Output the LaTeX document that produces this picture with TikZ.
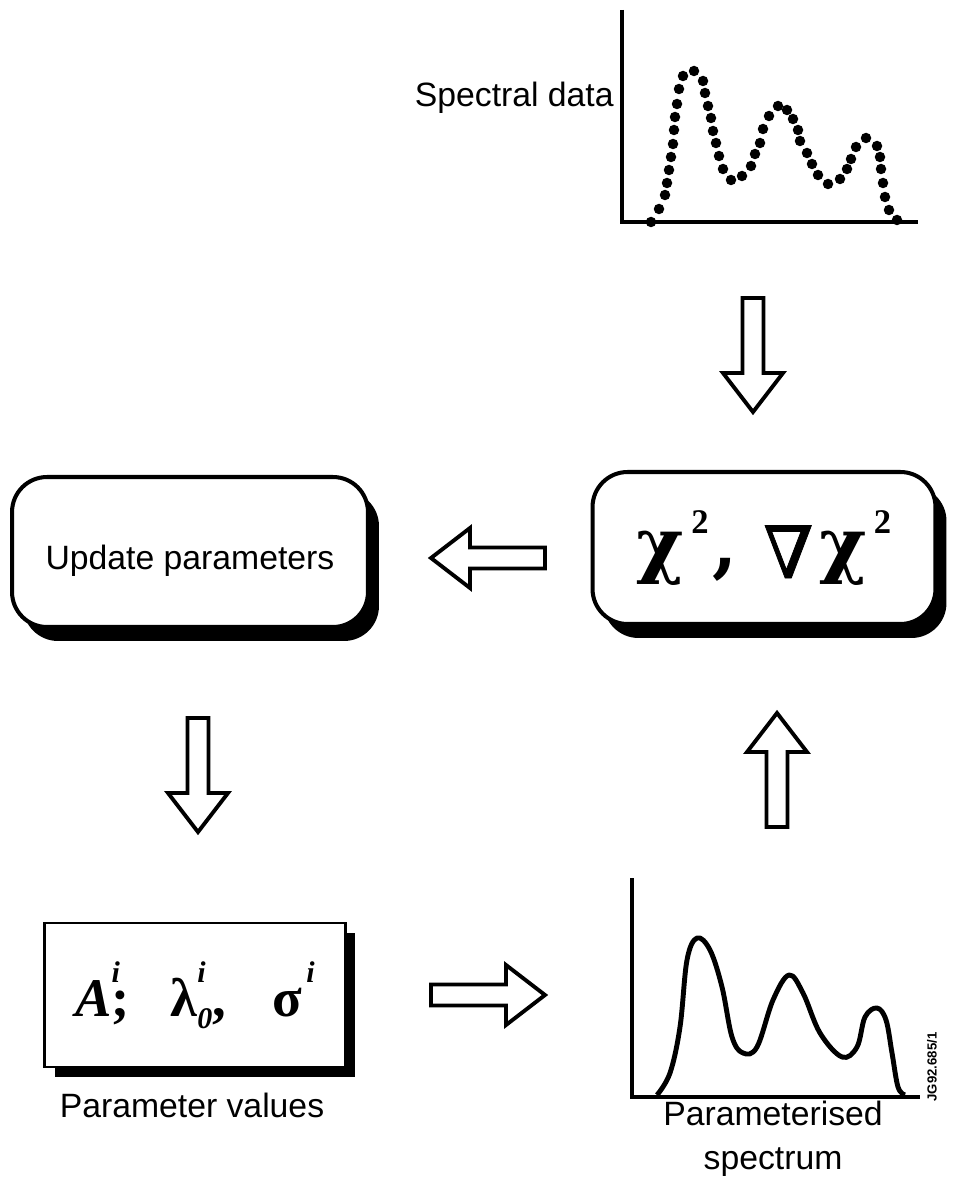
\documentclass[tikz,border=0pt]{standalone}
\usepackage{fontspec}
\setmainfont{Liberation Sans}
\newfontfamily\timesf{Liberation Serif}
\newfontfamily\symf{DejaVu Serif}
\newfontfamily\nablaf[FakeBold=1.1]{DejaVu Serif}
\usetikzlibrary{shadows}
\def\fatarrow(#1)[#2]{\draw[fatline, shift={(#1)}, rotate=#2] (-57,-10.5) -- (18,-10.5) -- (18,-30) -- (57,0) -- (18,30) -- (18,10.5) -- (-57,10.5) -- cycle;}
\newcommand\supr[1]{\raisebox{0.62em}{\fontsize{0.55em}{0.6em}\selectfont #1}}
\newcommand\subr[1]{\raisebox{-0.22em}{\fontsize{0.55em}{0.6em}\selectfont #1}}
\newcommand\supc[1]{\raisebox{0.5em}{\fontsize{0.48em}{0.6em}\selectfont\timesf #1}}
\tikzset{
  fatline/.style={line width=2.2pt, fill=white},
  axis/.style={line width=2pt},
  label/.style={font=\fontsize{19.2}{23}\selectfont, inner sep=0pt},
  roundbox/.style={draw, line width=2.3pt, fill=white, rounded corners=0.7cm,
    drop shadow={shadow xshift=0.22cm, shadow yshift=-0.28cm, opacity=1, fill=black}},
  squarebox/.style={draw, line width=1.6pt, fill=white,
    drop shadow={shadow xshift=0.2cm, shadow yshift=-0.2cm, opacity=1, fill=black}},
}

\begin{document}
\begin{tikzpicture}[x=0.02cm, y=-0.02cm]
		%%%%% START %%%%%
		\useasboundingbox (0,0) rectangle (955,1185);
		
		% measured spectrum
		\draw[axis] (622,10) -- (622,222) -- (918,222);
		\foreach \x/\y in {651/222, 659/209, 665/195, 667/183, 669/170, 671/157, 673/144, 674/130, 675/117, 677/104, 679/89, 683/76, 694/71, 703/81, 705/93, 708/106, 711/118, 713/131, 716/143, 719/156, 723/169, 731/180, 742/176, 751/166, 755/154, 760/143, 763/129, 769/116, 778/106, 787/110, 793/119, 798/130, 800/141, 807/153, 812/164, 818/175, 828/184, 840/179, 847/169, 851/159, 856/147, 866/138, 877/146, 880/157, 881/169, 883/183, 885/197, 889/210, 897/220}
			\fill (\x,\y) circle (0.105cm);
		\node[label, anchor=east] (data) at (614,98) {Spectral data};
		
		% fit boxes
		\node[roundbox, minimum width=6.86cm, minimum height=3.04cm, font=\fontsize{41}{46}\selectfont\symf\bfseries] (chi) at (764,548) {χ\kern0.1em\supc{2}\kern0.06em,\kern0.35em\raisebox{-0.12em}{\nablaf\mdseries ∇}\kern0.08emχ\kern0.1em\supc{2}};
		\node[roundbox, minimum width=7.12cm, minimum height=3cm, label, text height=25pt, text depth=5pt] (upd) at (190,552) {Update parameters};
		\node[squarebox, minimum width=6.02cm, minimum height=2.88cm, font=\fontsize{31}{35}\selectfont\timesf\bfseries] (par) at (195,995) {\textit{A}\rlap{\supr{\textit{i}}};\hspace{0.75em}λ\rlap{\supr{\textit{i}}}\subr{\textit{0}},\hspace{0.85em}σ\kern0.08em\supr{\textit{i}}};
		\node[label] (parlab) at (192,1105) {Parameter values};
		
		% model spectrum
		\draw[axis] (632,878) -- (632,1097) -- (920,1097);
		\draw[line width=2.8pt, line join=round] plot[smooth, tension=0.6] coordinates {(657,1095) (670,1073) (680,1027) (687,960) (697,938) (710,950) (722,987) (732,1037) (743,1053) (757,1047) (773,1000) (789,975) (803,993) (820,1033) (842,1057) (857,1047) (865,1017) (877,1008) (886,1020) (892,1053) (898,1087) (905,1095)};
		\node[label, align=center] (model) at (773,1139) {Parameterised\\[2pt]spectrum};
		\node[rotate=90, font=\fontsize{7.5}{9}\selectfont\bfseries, inner sep=0pt] (ref) at (932,1067) {JG92.685/1};
		
		% loop arrows
		\coordinate (a1) at (753,355);
		\coordinate (a2) at (488,558);
		\coordinate (a3) at (198,775);
		\coordinate (a4) at (488,995);
		\coordinate (a5) at (777,770);
		\fatarrow(a1)[-90]
		\fatarrow(a2)[180]
		\fatarrow(a3)[-90]
		\fatarrow(a4)[0]
		\fatarrow(a5)[90]
		
		%%%%% END %%%%%
	\end{tikzpicture}
\end{document}
